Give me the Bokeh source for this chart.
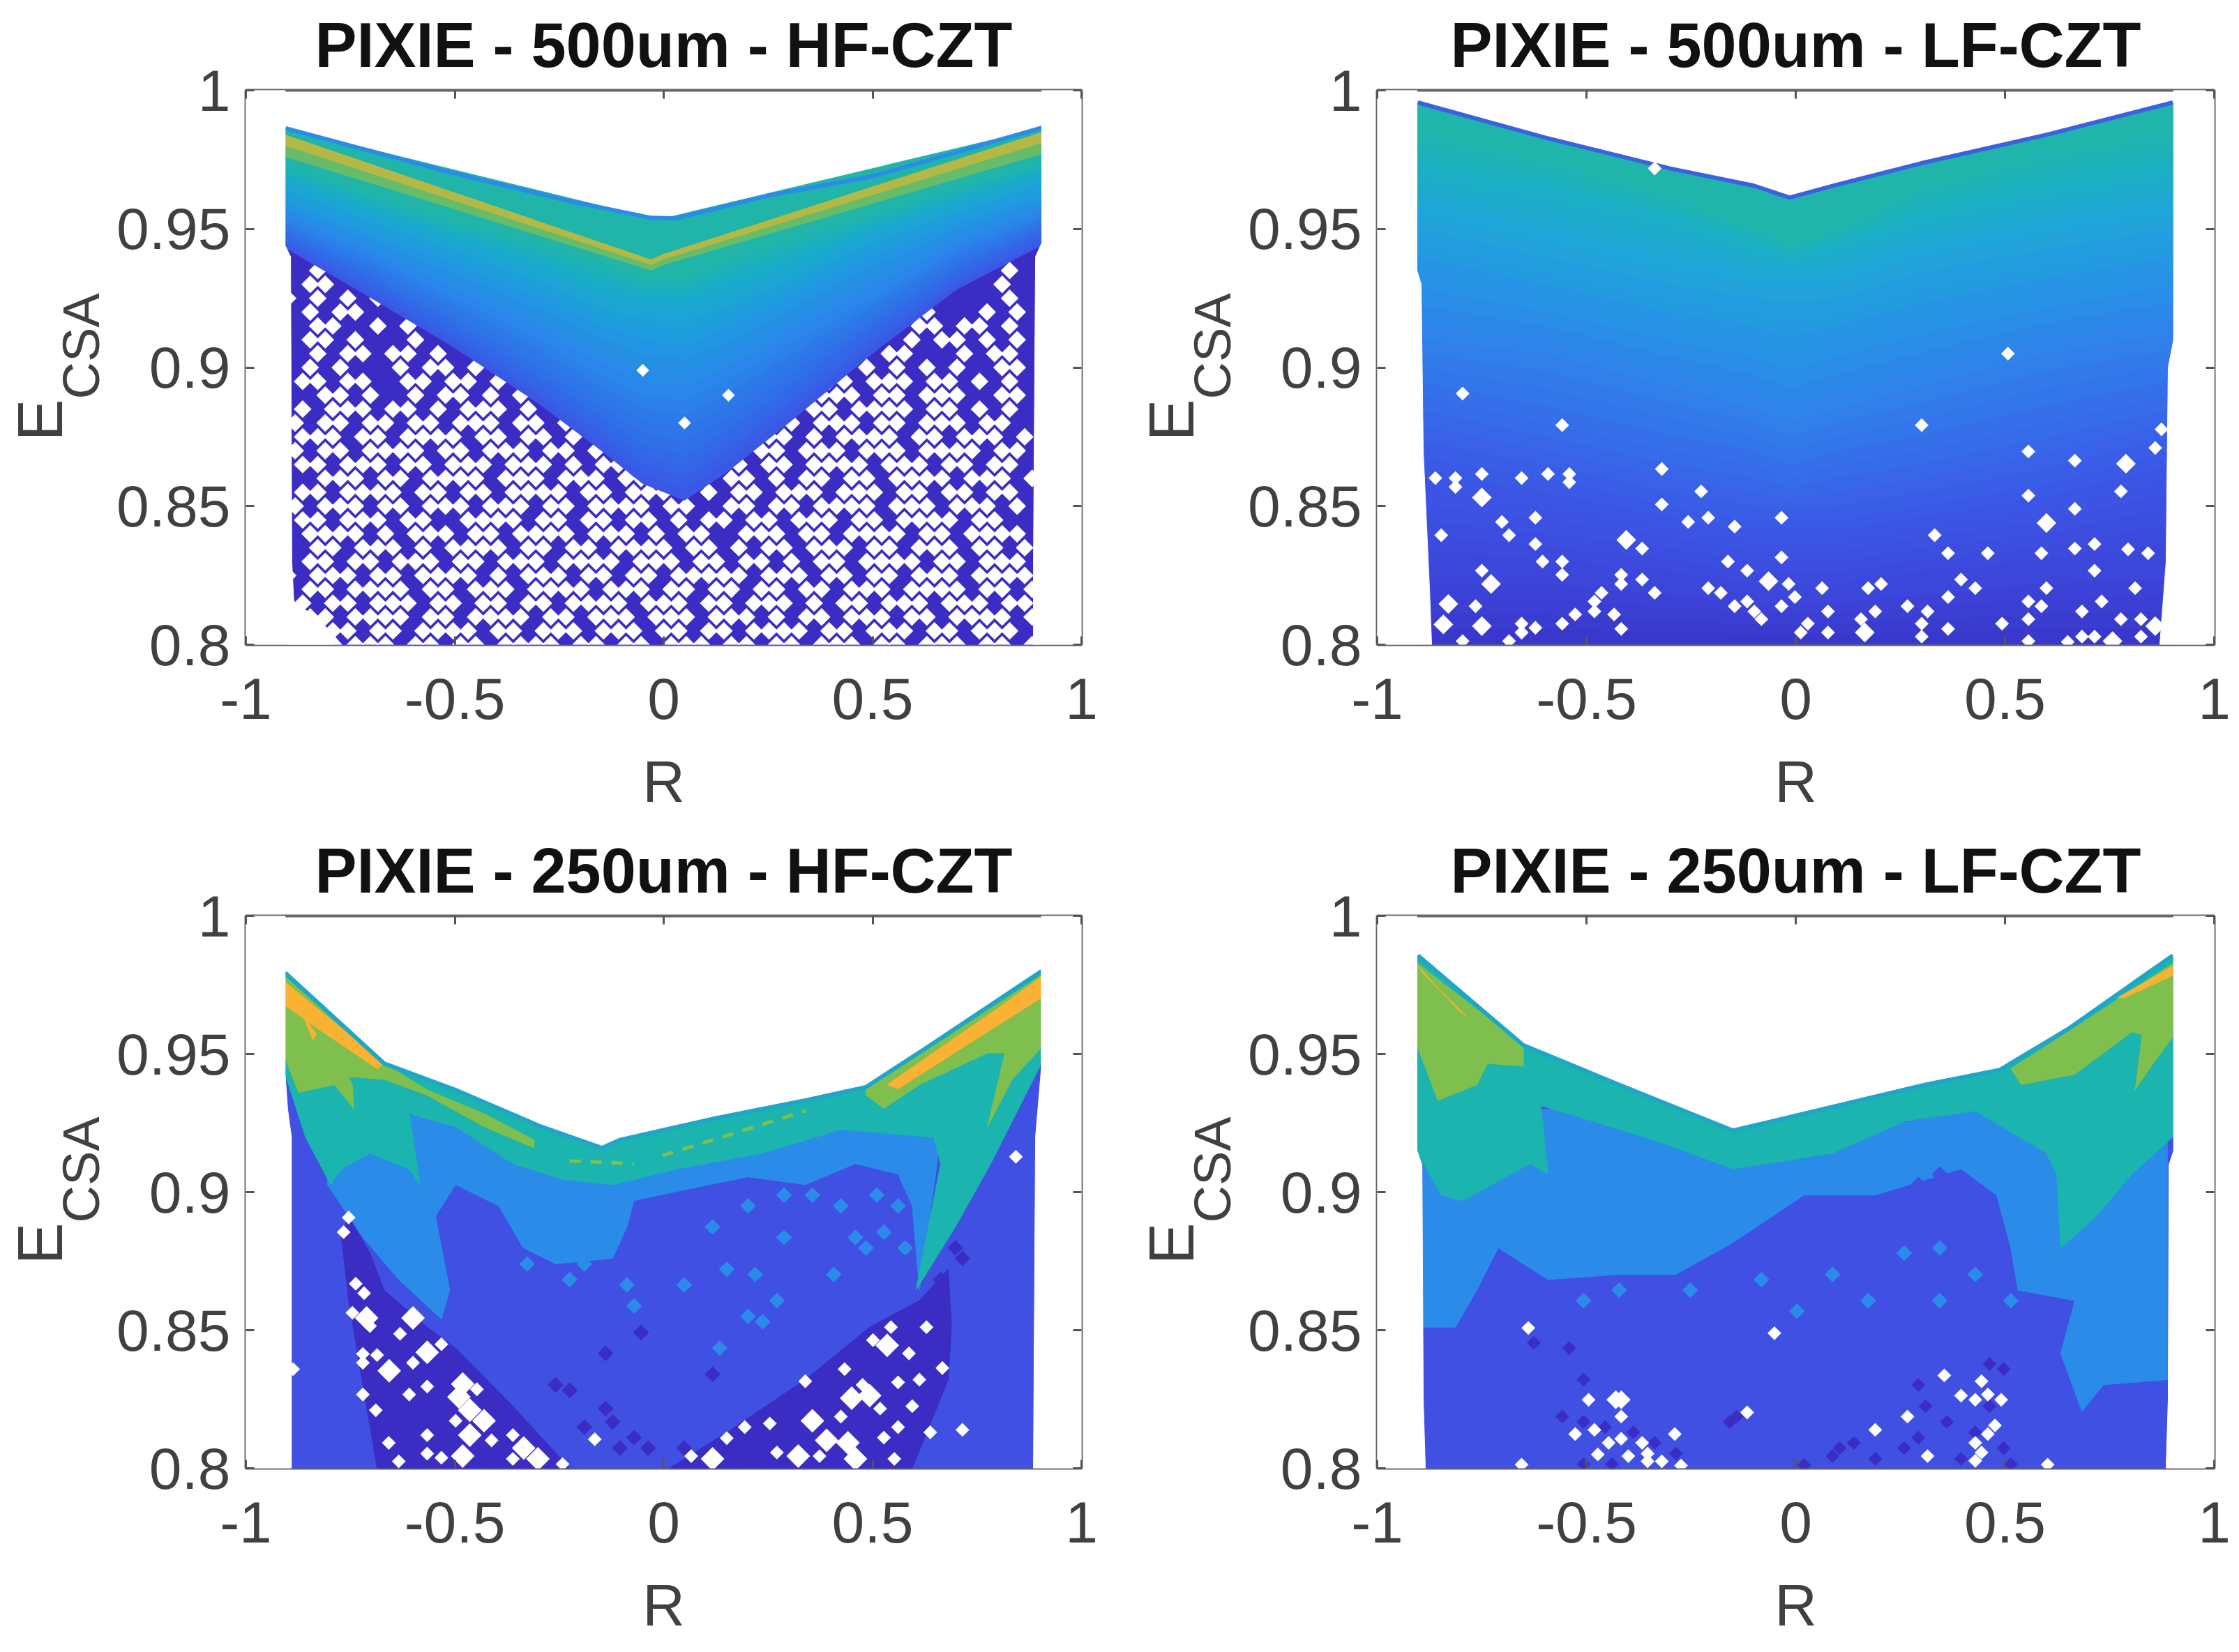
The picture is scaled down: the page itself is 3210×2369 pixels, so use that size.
from math import pi
from bokeh.plotting import figure
from bokeh.models import LinearAxis, FixedTicker, Title
from bokeh.layouts import column, row
from bokeh.embed import file_html
from bokeh.resources import INLINE

FONT = "Liberation Sans"
TITLES = ["PIXIE - 500um - HF-CZT", "PIXIE - 500um - LF-CZT",
          "PIXIE - 250um - HF-CZT", "PIXIE - 250um - LF-CZT"]
X_TICKS = [-1, -0.5, 0, 0.5, 1]
X_LABELS = ["-1", "-0.5", "0", "0.5", "1"]
Y_TICKS = [0.8, 0.85, 0.9, 0.95, 1]
Y_LABELS = ["0.8", "0.85", "0.9", "0.95", "1"]

INDIGO = "#3b2dc4"
BLUE = "#3f50e2"
LIGHT = "#2a8ce8"
TEAL = "#1cb4ae"
GREEN = "#7fbf4e"
ORANGE = "#f9b233"

# ---------- panel 1: 500um HF ----------
P1_TOP_R = [-0.905, -0.5, -0.225, -0.03, 0.03, 0.25, 0.5, 0.905]
P1_TOP_E = [0.9863, 0.970, 0.960, 0.954, 0.9538, 0.962, 0.969, 0.9865]
P1_K = [-0.905, -0.7, -0.5, -0.3, -0.15, -0.05, 0.05, 0.15, 0.3, 0.5, 0.7, 0.905]
P1_LAYERS = [
    ("#3a58e6", [.943, .925, .907, .887, .870, .858, .852, .862, .880, .905, .928, .944]),
    ("#2f6fe8", [.948, .932, .915, .897, .882, .872, .868, .877, .893, .915, .935, .950]),
    ("#2a86ea", [.953, .940, .925, .910, .897, .890, .888, .895, .908, .925, .943, .955]),
    ("#1f9bdf", [.960, .948, .937, .925, .915, .910, .908, .914, .925, .940, .952, .962]),
    ("#18acc8", [.968, .957, .947, .937, .928, .925, .924, .929, .937, .950, .960, .970]),
    ("#20b5a8", [.973, .962, .952, .945, .938, .932, .932, .938, .946, .955, .965, .974]),
]
P1_RIB_R = [-0.905, -0.03, 0.0, 0.905]
P1_RIB_GREEN = [.976, .935, .937, .977]
P1_RIB_YEL_LO = [.980, .937, .939, .981]
P1_RIB_YEL_HI = [.984, .939, .941, .985]
P1_MASK_L_R = [-1, -0.77, -0.83, -0.885, -0.89, -0.893, -0.906, -0.906, -1]
P1_MASK_L_E = [.8, .8, .81, .815, .83, .94, .944, 1, 1]
P1_MASK_R_R = [1, 0.885, 0.885, 0.89, 0.905, 0.905, 1]
P1_MASK_R_E = [.8, .8, .83, .94, .945, 1, 1]
P1_ROW_E = [.935, .930, .925, .920, .915, .910, .905, .900, .895, .890, .885, .880, .875, .870,
            .865, .860, .855, .850, .845, .840, .835, .830, .825, .820, .815, .810, .805, .800]
P1_ROWS = [
    "..o.............................................o.",
    ".oo............................................o..",
    "o.o.o.o...................................o.....o.",
    ".o.oo.....................................o...o.o.",
    "..oo..o.o.................................oo.oo.o.",
    ".oo.o...o................................o.oo.o.o.",
    "..o.oo.oo.o.............................oo...o.oo.",
    ".o.o...o.oo.o.......................o.o.o.o.o..oo.",
    ".oo.oo..oo.oo.o.....................oo.ooo.oo.o.o.",
    "..oo.o..o.oo.o.o...................ooo.oo.ooo..oo.",
    ".o.ooo.oo.o.ooo.o..................oo.oooo.oo.o.o.",
    "o.oo.oo.oo.ooo.oo.o..............o.ooo.oo.ooo.oo..",
    ".ooo.oo.oooo.oo.oo.o............oo.o.oooo.oo.ooo.o",
    "o.oo.oooo.oo.ooo.oo.o..........oo.ooo.ooo.oooo.oo.",
    ".oo.ooo.oo.ooo.ooo.o.oo.......o.oo.oooo.ooo.oo.oo.",
    "..ooo.oo.oooo.ooo.ooo.oo.....oo.o.oo.oo.oooo.ooo.o",
    ".oo.oooo.oo.oo.oooo.oo.ooo..o.oo.ooo.ooo.oo.oo.oo.",
    "o.ooo.oo.ooo.ooo.oo.oooo.oo..oo.oo.oooo.ooo.ooo.o.",
    ".oo.ooo.oo..oooo.oo.oo.oo.o.oo.oo.ooo.oo.oooo.oo..",
    ".oooo.o.ooo.oo.oooo.ooo.o.oo..ooo.oo.oooo.oo.oooo.",
    "..oo.ooo.o.oooo.oo.oo.oooo.oo.o.oo.ooo.oo.ooo.oo.o",
    ".oo.oo.ooo.oo.ooo.oooo.ooo.oo.oo.o.oo.oooo.oo.ooo.",
    "o.ooo.oo.oooo.o.ooo.oo.oo.ooooo.ooo.oo.oo.ooo.oooo",
    ".oo.oooo.oo.ooo.oooo.ooo.oo.oo.oo.oo.ooo.oooo.oo.o",
    "oo.oo.ooo.oo.oo.oo.oooo.ooo.oo.ooo.o.oo.ooo.ooo.oo",
    "ooo.oooo.oo.oooo.oo.ooo.ooo.ooo.o.oo.ooo.oo.oooo.o",
    "oo.oo.oo.oooo.oo.ooo.ooo.oo.oo.oooo.oo.ooo.oo.ooo.",
    "ooo.ooo.oo.oo.oooo.oo.oo.ooo.oo.oo.ooo.oo.ooo.oo.o",
]
P1_WHITE_R = [-0.05, 0.155, 0.05]
P1_WHITE_E = [.899, .890, .880]

# ---------- panel 2: 500um LF ----------
P2_K = [-0.903, -0.6, -0.3, -0.1, -0.015, 0.1, 0.3, 0.6, 0.901]
P2_TOP = [.9956, .983, .9718, .9656, .9613, .966, .9737, .984, .9956]
P2_LAYERS = [
    ("#3a38cc", [.800] * 9),
    ("#3c46da", [.822, .822, .818, .815, .815, .815, .818, .822, .824]),
    ("#3c50e2", [.845, .840, .835, .830, .830, .830, .835, .840, .850]),
    ("#3a5de8", [.868, .860, .850, .845, .845, .845, .850, .858, .870]),
    ("#3570ea", [.890, .880, .870, .865, .860, .865, .870, .880, .890]),
    ("#2e84ea", [.910, .905, .893, .885, .880, .885, .893, .905, .912]),
    ("#2696e4", [.935, .925, .915, .910, .905, .910, .918, .927, .935]),
    ("#1fa6d8", [.955, .945, .935, .930, .930, .930, .940, .948, .955]),
    ("#1bb0c0", [.972, .965, .955, .945, .940, .945, .955, .965, .972]),
    ("#20b5aa", [.985, .975, .962, .950, .944, .950, .965, .978, .985]),
]
P2_MASK_L_R = [-1, -0.87, -0.875, -0.89, -0.895, -0.905, -0.905, -1]
P2_MASK_L_E = [.8, .8, .82, .87, .93, .935, 1, 1]
P2_MASK_R_R = [1, 0.87, 0.885, 0.89, 0.903, 0.903, 1]
P2_MASK_R_E = [.8, .8, .83, .9, .91, 1, 1]
P2_WHITE_R = [-.337, -.796, -.558, -.861, -.813, -.813, -.592, -.655, -.541, -.541, -.32, -.32, -.226,
              -.257, -.209, -.146, -.034, -.622, -.702, -.685, -.847, -.622, -.367, -.605, -.558, -.558,
              -.75, -.765, -.622, -.655, -.558, -.527, -.481, -.481, -.464, -.417, -.417, -.367, -.337,
              -.434, -.417, -.162, -.116, -.034, -.017, -.209, -.179, -.116, -.146, -.099, -.082, -.034,
              -.002, .063, .077, .029, .012, .077, .156, .19, .173, .204, .267, .315, .301, .301, .364,
              .364, .395, .429, .364, .332, .459, .301, .507, .556, .556, .667, .667, .777, .859, .874,
              .667, .714, .794, .842, .587, .714, .599, .811, .556, .587, .731, .684, .556, .493, .777,
              .825, .684, .714, .825, .556, .65, -.796, -.685, -.75, -.655, -.655]
P2_WHITE_E = [.9718, .8906, .8792, .8601, .8601, .8569, .8616, .8601, .8616, .8586, .8634, .8506, .8553,
              .8443, .8458, .8426, .8458, .8458, .8443, .8395, .8395, .8363, .8347, .83, .83, .8252,
              .8267, .8139, .8061, .8044, .8076, .8109, .8156, .812, .8187, .8252, .8219, .8235, .8187,
              .8109, .8057, .83, .8267, .8315, .8219, .8204, .8187, .8156, .8139, .812, .8092, .8139,
              .8172, .8204, .812, .8076, .8044, .8044, .8092, .812, .8204, .8219, .8139, .812, .8076,
              .8029, .8057, .8172, .8235, .8204, .833, .8395, .833, .8792, .905, .8697, .8538, .849,
              .8664, .8553, .871, .8777, .8347, .8363, .8344, .833, .833, .8267, .8204, .8204, .8156,
              .8139, .8156, .812, .8092, .8076, .8092, .8092, .8029, .8029, .8029, .8013, .801, .8013,
              .8013, .8616, .8076, .8044]
P2_BIG_R = [-.75, -.405, -.728, -.83, -.842, -.75, -.065, .165, .789, .599, .859, .757]
P2_BIG_E = [.8531, .8378, .8219, .8147, .8073, .8067, .8229, .8044, .8653, .8439, .8067, .8013]

# ---------- panel 3: 250um HF ----------
P3_TOP_R = [-.906, -.669, -.498, -.293, -.148, -.105, .117, .339, .484, .629, .904]
P3_TOP_E = [.9794, .9466, .937, .9237, .916, .9189, .9265, .9332, .938, .9523, .98]
P3_LIGHT_R = [-.805, -.72, -.634, -.532, -.512, -.546, -.498, -.395, -.336, -.259, -.122, -.088, -.071,
              .049, .202, .339, .459, .561, .595, .612, .663, .55, .2, 0, -.148, -.395, -.5, -.737, -.805]
P3_LIGHT_E = [.9027, .8836, .8683, .854, .8645, .8912, .9027, .895, .8798, .874, .876, .8874, .8969,
              .9008, .9055, .9027, .9103, .9065, .895, .8645, .9198, .93, .915, .91, .908, .915, .93, .925, .9141]
P3_TEAL_R = [-.906, -.857, -.797, -.771, -.703, -.609, -.583, -.609, -.498, -.361, -.242, -.122, .032,
             .237, .424, .646, .663, .604, .698, .783, .904]
P3_TEAL_E = [.9427, .9198, .9027, .9084, .9141, .9084, .9027, .9284, .9237, .9103, .9046, .9027, .9084,
             .9141, .9227, .9198, .9103, .8645, .8874, .9103, .9466]
P3_GL_R = [-.906, -.906, -.874, -.788, -.742, -.745, -.754, -.669, -.566, -.43, -.31, -.31, -.43, -.566, -.669, -.906]
P3_GL_E = [.978, .9485, .9361, .9389, .9303, .9389, .9418, .9408, .9351, .9237, .916, .9189, .9284, .937, .9466, .978]
P3_GR_R = [.484, .527, .612, .775, .817, .775, .834, .904, .904, .629, .484]
P3_GR_E = [.9351, .9303, .9389, .9504, .9504, .9237, .9408, .9523, .9786, .9513, .938]
P3_OL_R = [-.906, -.906, -.86, -.84, -.831, -.853, -.686, -.669]
P3_OL_E = [.9761, .9676, .9628, .9552, .9571, .9618, .9447, .9466]
P3_OR_R = [.904, .904, .561, .535, .8]
P3_OR_E = [.978, .9704, .9374, .9389, .9666]
P3_DASH_R = [-.225, -.071, -.003, .339]
P3_DASH_E = [.9113, .9103, .9132, .9294]
P3_IL_R = [-.754, -.771, -.754, -.686, -.225, -.361, -.498, -.566, -.669, -.703]
P3_IL_E = [.8912, .8836, .8607, .8, .8, .8225, .8435, .8511, .8645, .8779]
P3_IR_R = [.014, .151, .339, .493, .612, .681, .689, .681, .595]
P3_IR_E = [.8, .813, .8321, .8511, .8607, .8721, .8511, .8321, .8]
P3_MASK_L_R = [-1, -.891, -.891, -.9, -.906, -.906, -1]
P3_MASK_L_E = [.8, .8, .92, .93, .943, 1, 1]
P3_MASK_R_R = [1, .885, .89, .904, .904, 1]
P3_MASK_R_E = [.8, .8, .92, .945, 1, 1]
P3_WHITE_R = [.843, -.754, -.766, -.737, -.717, -.745, -.703, -.631, -.532, -.72, -.686, -.72, -.6, -.72,
              -.689, -.609, -.566, -.447, -.498, -.412, -.566, -.658, -.566, -.634, -.532, -.361, -.361,
              -.242, -.165, .066, .151, .194, .254, .271, .373, .424, .476, .433, .339, .501, .544, .629,
              .587, .561, .612, .667, .518, .561, .595, .527, .552, .715, .638, -.887]
P3_WHITE_E = [.9128, .8908, .8855, .8668, .8634, .8563, .8515, .8487, .8449, .8414, .841, .8382, .8382,
              .8267, .821, .8267, .8296, .8286, .8172, .8101, .812, .8092, .8053, .8025, .8038, .812,
              .8034, .8015, .8105, .8044, .8109, .8149, .8162, .8057, .8044, .8187, .8302, .8359, .8315,
              .8464, .8511, .8511, .8416, .8311, .8321, .8363, .8216, .8149, .8225, .8111, .8034, .8139,
              .813, .8359]
P3_BIG_R = [-.711, -.6, -.566, -.657, -.481, -.49, -.464, -.43, -.464, -.481, -.335, -.301, .117, .322,
            .356, .39, .441, .459, .45, .493, .535]
P3_BIG_E = [.8544, .8544, .842, .8353, .8305, .8258, .821, .8172, .812, .8044, .8073, .8034, .8034, .8044,
            .8172, .8101, .8092, .8034, .8254, .8263, .8445]
P3_LDOT_R = [.288, .151, .219, .271, .202, .237, .134, .049, -.088, -.071, -.19, -.225, -.327, .459, .484,
             .527, .407, .356, .288, .202, .117, .424, .51, .561, .578]
P3_LDOT_E = [.8836, .8721, .8702, .8607, .855, .8531, .8435, .8664, .8664, .8588, .874, .8683, .874, .8836,
             .8798, .8855, .8702, .8989, .8989, .895, .8874, .895, .8989, .895, .8798]
P3_DDOT_R = [.698, .715, .663, -.225, -.259, -.139, -.122, -.19, -.071, -.037, -.105, -.054, -.139, .117, .049, .117]
P3_DDOT_E = [.8798, .876, .8683, .8282, .8302, .8216, .8168, .8149, .8111, .8073, .8073, .8492, .8416, .834, .8073, .8063]

# ---------- panel 4: 250um LF ----------
P4_TOP_R = [-.903, -.651, -.422, -.15, .02, .31, .488, .65, .901]
P4_TOP_E = [.9857, .9532, .9389, .9223, .9284, .9389, .9443, .959, .9857]
P4_LIGHT_R = [-.891, -.813, -.762, -.711, -.592, -.422, -.286, -.15, .02, .19, .395, .48, .514, .531, .667,
              .633, .684, .735, .888, .888, .45, -.15, -.45, -.891]
P4_LIGHT_E = [.8511, .8511, .8645, .8798, .8683, .8702, .8702, .8817, .8989, .8989, .9084, .8989, .8798,
              .8645, .8607, .8416, .8206, .8302, .8321, .93, .93, .915, .93, .93]
P4_TEAL_R = [-.903, -.847, -.796, -.634, -.592, -.609, -.524, -.32, -.15, .088, .259, .429, .599, .624, .633,
             .718, .803, .901]
P4_TEAL_E = [.9141, .8989, .8969, .9103, .9065, .9313, .9275, .9179, .9084, .9141, .9256, .9294, .9141, .9065,
             .8798, .8912, .9065, .9199]
P4_GL_R = [-.903, -.903, -.855, -.762, -.736, -.651, -.651]
P4_GL_E = [.9828, .9523, .9332, .9389, .9466, .9456, .9532]
P4_GR_R = [.514, .539, .667, .803, .828, .811, .854, .901, .901, .65]
P4_GR_E = [.9447, .9389, .9427, .958, .957, .937, .9466, .9561, .9828, .958]
P4_OL_R = [-.903, -.889, -.787, -.804]
P4_OL_E = [.9819, .979, .9637, .9656]
P4_OR_R = [.901, .901, .786, .769]
P4_OR_E = [.9819, .9785, .9704, .9704]
P4_MASK_L_R = [-1, -.885, -.89, -.893, -.905, -.905, -1]
P4_MASK_L_E = [.8, .8, .825, .91, .915, 1, 1]
P4_MASK_R_R = [1, .885, .89, .892, .903, .903, 1]
P4_MASK_R_E = [.8, .8, .825, .91, .915, 1, 1]
P4_WHITE_R = [-.639, -.051, -.116, -.495, -.417, -.527, -.481, -.447, -.417, -.473, -.4, -.367, -.354, -.354,
              -.32, -.289, -.274, -.655, .19, .267, .315, .355, .395, .429, .444, .459, .491, .476, .459,
              .429, .444, .429, .602]
P4_WHITE_E = [.8508, .8489, .8202, .8248, .8187, .8124, .8139, .8092, .8107, .805, .8044, .8092, .8053, .8025,
              .8025, .8124, .801, .8013, .8139, .8187, .8044, .8336, .8263, .8248, .8315, .8267, .8248, .8155,
              .8124, .8092, .8057, .8027, .8013]
P4_BIG_R = [-.43, -.417]
P4_BIG_E = [.8248, .8248]
P4_LDOT_R = [-.507, -.422, -.252, -.082, .088, .259, .344, .429, .514, .173, .003, .344]
P4_LDOT_E = [.8607, .8645, .8645, .8683, .8702, .8779, .8798, .8702, .8607, .8607, .8569, .8607]
P4_MDOT_R = [.003, .088, .173, .259, .293, .344, .429, .12, .22, .38]
P4_MDOT_E = [.8874, .8855, .8893, .895, .9027, .9065, .8989, .875, .88, .89]
P4_DDOT_R = [-.558, -.507, -.456, -.507, -.541, -.626, -.388, -.337, -.286, -.439, -.507, -.158, -.141, .02, .088,
             .105, .139, .19, .259, .293, .361, .429, .463, .497, .463, .497, .395, .514, .31, .293]
P4_DDOT_E = [.8187, .8168, .8149, .8321, .8435, .8454, .813, .8092, .8053, .8015, .8015, .8168, .8187, .8011, .8044,
             .8073, .8092, .8034, .8073, .8111, .8168, .813, .8378, .8359, .8225, .8073, .8034, .8015, .8225, .8302]


def interp(x, xs, ys):
    for i in range(len(xs) - 1):
        if xs[i] <= x <= xs[i + 1]:
            t = (x - xs[i]) / (xs[i + 1] - xs[i])
            return ys[i] + t * (ys[i + 1] - ys[i])
    return ys[0] if x < xs[0] else ys[-1]


def mix(c1, c2, t):
    a = [int(c1[i:i + 2], 16) for i in (1, 3, 5)]
    b = [int(c2[i:i + 2], 16) for i in (1, 3, 5)]
    return "#" + "".join("%02x" % round(u + t * (v - u)) for u, v in zip(a, b))


def smooth_layers(layers, steps=4):
    out = []
    for (c1, l1), (c2, l2) in zip(layers, layers[1:]):
        for s in range(steps):
            t = s / steps
            out.append((mix(c1, c2, t), [u + t * (v - u) for u, v in zip(l1, l2)]))
    out.append(layers[-1])
    return out


def make_panel(title, fw, fh, left, right, top, bottom):
    p = figure(frame_width=fw, frame_height=fh, x_range=(-1, 1), y_range=(0.8, 1),
               toolbar_location=None, output_backend="svg",
               min_border_left=left, min_border_right=right, min_border_top=top, min_border_bottom=bottom,
               x_axis_label="R", background_fill_color="white", border_fill_color="white")
    p.grid.visible = False
    p.outline_line_color = "#666666"
    p.outline_line_width = 4
    p.title.text = title
    p.title.align = "center"
    p.title.text_font = FONT
    p.title.text_font_size = "90px"
    p.title.text_font_style = "bold"
    p.title.text_color = "#111111"
    p.title.standoff = 30
    ax, ay = p.xaxis[0], p.yaxis[0]
    ax.ticker = FixedTicker(ticks=X_TICKS)
    ay.ticker = FixedTicker(ticks=Y_TICKS)
    ax.major_label_overrides = dict(zip(X_TICKS, X_LABELS))
    ay.major_label_overrides = dict(zip(Y_TICKS, Y_LABELS))
    for a in (ax, ay):
        a.axis_line_color = None
        a.major_tick_in = 12
        a.major_tick_out = 0
        a.major_tick_line_color = "#555555"
        a.major_tick_line_width = 3
        a.minor_tick_line_color = None
        a.major_label_text_font = FONT
        a.major_label_text_font_size = "84px"
        a.major_label_text_color = "#404040"
    ax.major_label_standoff = 48
    ay.major_label_standoff = 22
    ax.axis_label_text_font = FONT
    ax.axis_label_text_font_size = "84px"
    ax.axis_label_text_font_style = "normal"
    ax.axis_label_text_color = "#404040"
    ax.axis_label_standoff = 40
    for side, ticks in (("above", X_TICKS), ("right", Y_TICKS)):
        a2 = LinearAxis(ticker=FixedTicker(ticks=ticks),
                        major_label_overrides={t: "" for t in ticks},
                        axis_line_color=None, major_tick_in=12, major_tick_out=0,
                        major_tick_line_color="#555555", major_tick_line_width=3,
                        minor_tick_line_color=None, major_label_standoff=0)
        p.add_layout(a2, side)
    p.add_layout(Title(text="CSA", align="left", offset=352, standoff=14, text_font=FONT,
                       text_font_size="74px", text_font_style="normal", text_color="#404040"), "left")
    p.add_layout(Title(text="E", align="left", offset=292, standoff=-84, text_font=FONT,
                       text_font_size="90px", text_font_style="normal", text_color="#404040"), "left")
    return p


def fill(p, xs, ys, color):
    p.patch(xs, ys, fill_color=color, line_color=color, line_width=1)


def under_top(xs_lo, ys_lo, top_r, top_e):
    return list(xs_lo) + list(top_r[::-1]), list(ys_lo) + list(top_e[::-1])


def dots(p, xs, ys, color, size):
    p.scatter(xs, ys, marker="square", angle=pi / 4, size=size, fill_color=color, line_color=None)


# panel 1
p1 = make_panel(TITLES[0], 1198, 795, 352, 50, 137, 252)
fill(p1, *under_top([-0.906, 0.906], [.8, .8], P1_TOP_R, P1_TOP_E), INDIGO)
w_r, w_e = [], []
for i, (e, row_s) in enumerate(zip(P1_ROW_E, P1_ROWS)):
    for c, ch in enumerate(row_s):
        if ch == "o":
            w_r.append(-0.9 + (c + 0.5 * (i % 2)) * 0.036)
            w_e.append(e)
dots(p1, w_r, w_e, "white", 18)
top_on_k = [interp(k, P1_TOP_R, P1_TOP_E) for k in P1_K]
for color, lo in smooth_layers(P1_LAYERS):
    p1.varea(x=P1_K, y1=lo, y2=top_on_k, fill_color=color)
dots(p1, P1_WHITE_R, P1_WHITE_E, "white", 13)
p1.varea(x=P1_RIB_R, y1=P1_RIB_GREEN, y2=P1_RIB_YEL_HI, fill_color="#66bc68")
p1.varea(x=P1_RIB_R, y1=P1_RIB_YEL_LO, y2=P1_RIB_YEL_HI, fill_color="#b4b846")
top_on_rib = [interp(k, P1_TOP_R, P1_TOP_E) for k in P1_RIB_R]
p1.varea(x=P1_RIB_R, y1=P1_RIB_YEL_HI, y2=top_on_rib, fill_color="#20b5a8")
p1.line(P1_TOP_R, P1_TOP_E, line_color="#2a8ce8", line_width=6)
fill(p1, P1_MASK_L_R, P1_MASK_L_E, "white")
fill(p1, P1_MASK_R_R, P1_MASK_R_E, "white")

# panel 2
p2 = make_panel(TITLES[1], 1200, 795, 374, 30, 137, 252)
for color, lo in smooth_layers(P2_LAYERS):
    p2.varea(x=P2_K, y1=lo, y2=P2_TOP, fill_color=color)
p2.line(P2_K, P2_TOP, line_color="#3a62e0", line_width=6)
dots(p2, P2_WHITE_R, P2_WHITE_E, "white", 14)
dots(p2, P2_BIG_R, P2_BIG_E, "white", 20)
fill(p2, P2_MASK_L_R, P2_MASK_L_E, "white")
fill(p2, P2_MASK_R_R, P2_MASK_R_E, "white")

# panel 3
p3 = make_panel(TITLES[2], 1198, 792, 352, 50, 137, 250)
fill(p3, *under_top([-0.906, 0.906], [.8, .8], P3_TOP_R, P3_TOP_E), BLUE)
dots(p3, P3_DDOT_R, P3_DDOT_E, INDIGO, 16)
fill(p3, P3_LIGHT_R, P3_LIGHT_E, LIGHT)
dots(p3, P3_LDOT_R, P3_LDOT_E, LIGHT, 16)
fill(p3, *under_top(P3_TEAL_R, P3_TEAL_E, P3_TOP_R, P3_TOP_E), TEAL)
fill(p3, P3_GL_R, P3_GL_E, GREEN)
fill(p3, P3_GR_R, P3_GR_E, GREEN)
fill(p3, P3_OL_R, P3_OL_E, ORANGE)
fill(p3, P3_OR_R, P3_OR_E, ORANGE)
p3.line(P3_DASH_R[:2], P3_DASH_E[:2], line_color=GREEN, line_width=5, line_dash="16 14")
p3.line(P3_DASH_R[2:], P3_DASH_E[2:], line_color=GREEN, line_width=5, line_dash="16 14")
p3.line(P3_TOP_R, P3_TOP_E, line_color="#1ea6c8", line_width=6)
fill(p3, P3_IL_R, P3_IL_E, INDIGO)
fill(p3, P3_IR_R, P3_IR_E, INDIGO)
dots(p3, P3_WHITE_R, P3_WHITE_E, "white", 14)
dots(p3, P3_BIG_R, P3_BIG_E, "white", 24)
fill(p3, P3_MASK_L_R, P3_MASK_L_E, "white")
fill(p3, P3_MASK_R_R, P3_MASK_R_E, "white")

# panel 4
p4 = make_panel(TITLES[3], 1200, 792, 374, 30, 137, 250)
fill(p4, *under_top([-0.905, 0.903], [.8, .8], P4_TOP_R, P4_TOP_E), BLUE)
fill(p4, P4_LIGHT_R, P4_LIGHT_E, LIGHT)
dots(p4, P4_LDOT_R, P4_LDOT_E, LIGHT, 16)
dots(p4, P4_MDOT_R, P4_MDOT_E, BLUE, 16)
fill(p4, *under_top(P4_TEAL_R, P4_TEAL_E, P4_TOP_R, P4_TOP_E), TEAL)
fill(p4, P4_GL_R, P4_GL_E, GREEN)
fill(p4, P4_GR_R, P4_GR_E, GREEN)
fill(p4, P4_OL_R, P4_OL_E, ORANGE)
fill(p4, P4_OR_R, P4_OR_E, ORANGE)
p4.line(P4_TOP_R, P4_TOP_E, line_color="#1ea6c8", line_width=6)
dots(p4, P4_DDOT_R, P4_DDOT_E, INDIGO, 14)
dots(p4, P4_WHITE_R, P4_WHITE_E, "white", 14)
dots(p4, P4_BIG_R, P4_BIG_E, "white", 19)
fill(p4, P4_MASK_L_R, P4_MASK_L_E, "white")
fill(p4, P4_MASK_R_R, P4_MASK_R_E, "white")

layout = column(row(p1, p2), row(p3, p4), styles={"margin-top": "-8px"})
open("out.html", "w").write(file_html(layout, INLINE))
